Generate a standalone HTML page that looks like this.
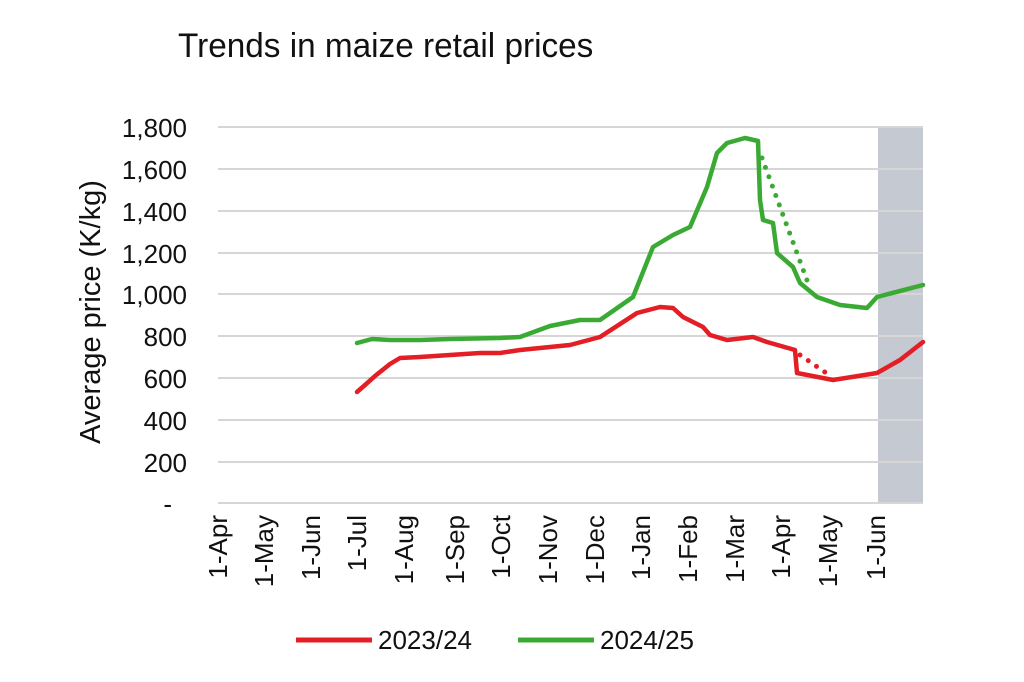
<!DOCTYPE html>
<html><head><meta charset="utf-8"><style>
body{margin:0;background:#fff;}
svg{display:block;font-family:"Liberation Sans",sans-serif;}
</style></head><body>
<svg width="1024" height="682" viewBox="0 0 1024 682">
<text x="178" y="57" font-size="34" fill="#111" transform="translate(178 0) scale(0.98 1) translate(-178 0)">Trends in maize retail prices</text>
<rect x="878" y="127" width="45" height="376" fill="#c4c9d2"/>
<g stroke="#d6d6d6" stroke-width="2">
<line x1="218" y1="127" x2="923" y2="127"/><line x1="218" y1="169" x2="923" y2="169"/>
<line x1="218" y1="211" x2="923" y2="211"/><line x1="218" y1="253" x2="923" y2="253"/>
<line x1="218" y1="294" x2="923" y2="294"/><line x1="218" y1="336" x2="923" y2="336"/>
<line x1="218" y1="378" x2="923" y2="378"/><line x1="218" y1="420" x2="923" y2="420"/>
<line x1="218" y1="462" x2="923" y2="462"/><line x1="218" y1="503" x2="923" y2="503"/>
</g>
<g font-size="26" fill="#111" text-anchor="end">
<text x="187" y="137">1,800</text><text x="187" y="179">1,600</text><text x="187" y="221">1,400</text>
<text x="187" y="263">1,200</text><text x="187" y="304">1,000</text><text x="187" y="346">800</text>
<text x="187" y="388">600</text><text x="187" y="430">400</text><text x="187" y="472">200</text>
<text x="172" y="513">-</text>
</g>
<text transform="translate(100 312) rotate(-90)" font-size="29" fill="#111" text-anchor="middle">Average price (K/kg)</text>
<g font-size="26" fill="#111" text-anchor="end">
<text transform="translate(227 515) rotate(-90)">1-Apr</text>
<text transform="translate(273 515) rotate(-90)">1-May</text>
<text transform="translate(320 515) rotate(-90)">1-Jun</text>
<text transform="translate(366 515) rotate(-90)">1-Jul</text>
<text transform="translate(413 515) rotate(-90)">1-Aug</text>
<text transform="translate(464 515) rotate(-90)">1-Sep</text>
<text transform="translate(510 515) rotate(-90)">1-Oct</text>
<text transform="translate(557 515) rotate(-90)">1-Nov</text>
<text transform="translate(604 515) rotate(-90)">1-Dec</text>
<text transform="translate(650 515) rotate(-90)">1-Jan</text>
<text transform="translate(697 515) rotate(-90)">1-Feb</text>
<text transform="translate(744 515) rotate(-90)">1-Mar</text>
<text transform="translate(790 515) rotate(-90)">1-Apr</text>
<text transform="translate(837 515) rotate(-90)">1-May</text>
<text transform="translate(885 515) rotate(-90)">1-Jun</text>
</g>
<g fill="none" stroke-width="4.5" stroke-linejoin="round" stroke-linecap="round">
<polyline stroke="#e31e24" points="357,392 365,385 375,376 390,364 400,358 420,357 450,355 480,353 500,353 520,350 540,348 570,345 600,337 637,313 660,307 673,308 683,317 703,327 710,335 727,340 753,337 767,342 795,350 797,373 833,380 877,373 900,360 923,342"/>
<polyline stroke="#3aaa35" points="357,343 372,339 390,340 420,340 450,339 500,338 520,337 550,326 580,320 600,320 633,297 653,247 673,235 690,227 707,187 717,153 727,143 745,138 758,141 760,200 763,220 773,223 777,253 793,267 800,283 817,297 840,305 867,308 877,297 923,285"/>
<line stroke="#3aaa35" stroke-dasharray="0 10" stroke-width="5" x1="762" y1="158" x2="808" y2="283"/>
<line stroke="#e31e24" stroke-dasharray="0 10" stroke-width="5" x1="800" y1="355" x2="832" y2="377"/>
</g>
<line x1="296" y1="640" x2="372" y2="640" stroke="#e31e24" stroke-width="5"/>
<text x="378" y="649" font-size="26" fill="#111">2023/24</text>
<line x1="518" y1="640" x2="594" y2="640" stroke="#3aaa35" stroke-width="5"/>
<text x="600" y="649" font-size="26" fill="#111">2024/25</text>
</svg>
</body></html>
